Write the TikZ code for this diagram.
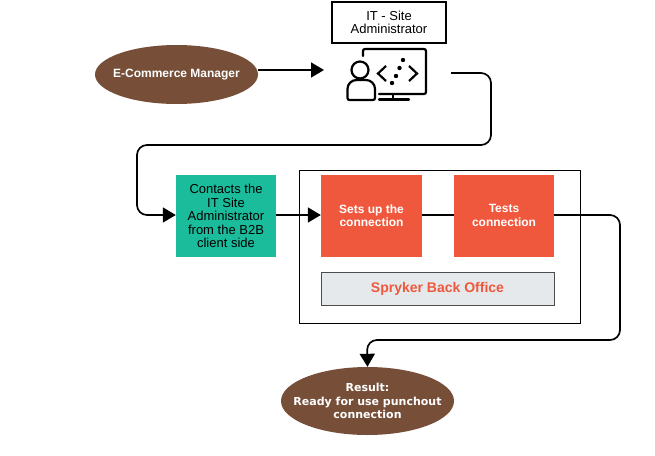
\documentclass[tikz,border=0pt]{standalone}
\usepackage{fontspec}
\setmainfont{Liberation Sans}
\newfontfamily\verdanafont{DejaVu Sans}
\usetikzlibrary{shapes,calc,positioning,arrows.meta}
\definecolor{brownfill}{HTML}{774F38}
\definecolor{tealfill}{HTML}{1ABC9C}
\definecolor{redfill}{HTML}{F0583D}
\definecolor{greyfill}{HTML}{E6E9EC}
\begin{document}
\begin{tikzpicture}[x=1pt,y=-1pt,inner sep=0pt]
\tikzstyle{oval}=[ellipse,inner xsep=-30pt,inner ysep=-10pt,fill=brownfill,text=white,align=center,font=\fontsize{12}{14}\selectfont\bfseries]
\tikzstyle{sn}=[fill=redfill,text=white,minimum width=101pt,minimum height=82pt,align=center,font=\fontsize{12}{13.5}\selectfont\bfseries]
\tikzstyle{flow}=[draw=black,line width=1.7pt,rounded corners=10pt,-{Triangle[length=13pt,width=15pt]}]
\useasboundingbox (0,0) rectangle (655,455);
\node[draw,line width=1.4pt,minimum width=114pt,minimum height=41pt,align=center,font=\fontsize{13}{13.5}\selectfont] (admin) at (389,22.5) {IT - Site\\Administrator}; 
\node[oval,minimum width=163pt,minimum height=59pt] (manager) at (176.5,74.5) {E-Commerce Manager}; 
\node[fill=tealfill,minimum width=100pt,minimum height=82pt,align=center,font=\fontsize{13}{13.5}\selectfont] (contact) at (226,216) {Contacts the\\IT Site\\Administrator\\from the B2B\\client side}; 
\node[draw,line width=1pt,minimum width=281pt,minimum height=153pt] (frame) at (440,246.5) {}; 
\node[sn] (setup) at (371.5,215.5) {Sets up the\\connection}; 
\node[sn,minimum width=100pt] (tests) at (504,215.5) {Tests\\connection}; 
\node[draw=black!70,fill=greyfill,minimum width=233pt,minimum height=33pt,text=redfill,font=\fontsize{14}{16}\selectfont\bfseries] (office) at (437.5,288.5) {Spryker Back Office}; 
\node[oval,minimum width=173pt,minimum height=68pt,font=\verdanafont\fontsize{11}{13.5}\selectfont\bfseries] (result) at (367.5,401) {Result:\\Ready for use punchout\\connection}; 

% icon
\draw[line width=2.2pt,rounded corners=2pt,line cap=round] (363,56) -- (363,49) -- (426,49) -- (426,94) -- (379,94);
\draw[line width=2.2pt] (393,94) -- (393,99.5);
\draw[line width=2.2pt,line cap=round] (379,99.5) -- (409,99.5);
\draw[line width=2.2pt] (360,70) circle (8.5);
\draw[line width=2.2pt,rounded corners=2pt] (361,100) -- (347.5,100) [rounded corners=9pt] -- (347.5,80) -- (375,80) [rounded corners=2pt] -- (375,100) -- cycle;
\draw[line width=2.2pt] (386,66) -- (378,73.5) -- (386,81);
\draw[line width=2.2pt] (409,66) -- (417,73.5) -- (409,81);
\foreach \dx/\dy in {392/83,396/76,399.5/68,403/60} \fill (\dx,\dy) circle (2.2);

\coordinate (icon) at (324,70);
\coordinate (out) at (451,73);
\coordinate (c1) at (491,73);
\coordinate (c2) at (491,145);
\coordinate (c3) at (137,145);
\coordinate (c4) at (137,215);
\coordinate (c5) at (620,215);
\coordinate (c6) at (620,340);
\coordinate (c7) at (367,340);

\draw[flow] (manager.east |- icon) -- (icon);
\draw[flow] (out) -- (c1) -- (c2) -- (c3) -- (c4) -- (contact.west |- c4);
\draw[flow] (contact.east |- c4) -- (setup.west |- c4);
\draw[line width=1.7pt] (setup.east |- c4) -- (tests.west |- c4);
\draw[flow] (tests.east |- c4) -- (c5) -- (c6) -- (c7) -- (result.north);
\end{tikzpicture}
\end{document}
